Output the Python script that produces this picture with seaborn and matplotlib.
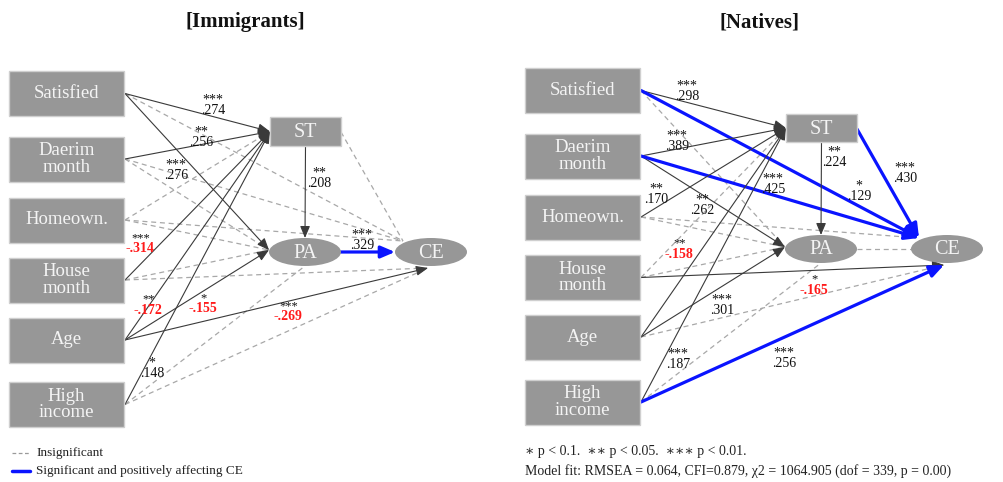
import matplotlib
matplotlib.use("Agg")
import matplotlib.pyplot as plt
from matplotlib.patches import Rectangle, Ellipse
import seaborn as sns

# ---------------- data ----------------
predictors = ["Satisfied", "Daerim\nmonth", "Homeown.", "House\nmonth", "Age", "High\nincome"]
mediators = ["ST", "PA", "CE"]
panel_titles = ["[Immigrants]", "[Natives]"]

# edges: (source, target, kind)  kind: sig = significant, ns = insignificant, pos = significant & positive on CE
imm_edges = [
    ("Satisfied", "ST", "sig"), ("Satisfied", "PA", "sig"), ("Satisfied", "CE", "ns"),
    ("Daerim\nmonth", "ST", "sig"), ("Daerim\nmonth", "PA", "ns"), ("Daerim\nmonth", "CE", "ns"),
    ("Homeown.", "ST", "ns"), ("Homeown.", "PA", "ns"), ("Homeown.", "CE", "ns"),
    ("House\nmonth", "ST", "sig"), ("House\nmonth", "PA", "ns"), ("House\nmonth", "CE", "ns"),
    ("Age", "ST", "sig"), ("Age", "PA", "sig"), ("Age", "CE", "sig"),
    ("High\nincome", "ST", "sig"), ("High\nincome", "PA", "ns"), ("High\nincome", "CE", "ns"),
    ("ST", "PA", "sig"), ("ST", "CE", "ns"), ("PA", "CE", "pos"),
]
nat_edges = [
    ("Satisfied", "ST", "sig"), ("Satisfied", "PA", "ns"), ("Satisfied", "CE", "pos"),
    ("Daerim\nmonth", "ST", "sig"), ("Daerim\nmonth", "PA", "sig"), ("Daerim\nmonth", "CE", "pos"),
    ("Homeown.", "ST", "sig"), ("Homeown.", "PA", "ns"), ("Homeown.", "CE", "ns"),
    ("House\nmonth", "ST", "ns"), ("House\nmonth", "PA", "ns"), ("House\nmonth", "CE", "sig"),
    ("Age", "ST", "sig"), ("Age", "PA", "sig"), ("Age", "CE", "ns"),
    ("High\nincome", "ST", "sig"), ("High\nincome", "PA", "ns"), ("High\nincome", "CE", "pos"),
    ("ST", "PA", "sig"), ("ST", "CE", "pos"), ("PA", "CE", "ns"),
]

# coefficients and significance stars
imm_coefs = [".274", ".256", ".276", "-.314", "-.172", "-.155", "-.269", ".148", ".208", ".329"]
imm_stars = ["***", "**", "***", "***", "**", "*", "***", "*", "**", "***"]
nat_coefs = [".298", ".389", ".170", ".262", ".425", ".129", ".224", ".430", "-.158", "-.165", ".301", ".187", ".256"]
nat_stars = ["***", "***", "**", "**", "***", "*", "**", "***", "**", "*", "***", "***", "***"]

legend_labels = ["Insignificant", "Significant and positively affecting CE"]
footnote_sig = "\u2217 p < 0.1.  \u2217\u2217 p < 0.05.  \u2217\u2217\u2217 p < 0.01."
footnote_fit = "Model fit: RMSEA = 0.064, CFI=0.879, \u03c72 = 1064.905 (dof = 339, p = 0.00)"

# ---------------- layout (pixel space) ----------------
imm_layout = dict(box_x=9, box_cy=[93.5, 159, 220, 280, 340, 404.5],
                  st=(270, 117, 71, 29), pa=(305, 252), ce=(431, 252),
                  title=(245, 22))
nat_layout = dict(box_x=525, box_cy=[90.5, 156, 217, 277.5, 337, 402],
                  st=(786, 114, 71, 28), pa=(821, 249), ce=(947, 249),
                  title=(760, 22))
imm_label_pos = [(213, 108), (201, 140), (176, 173), (140, 248), (148, 309), (203, 308),
                 (288, 316), (152, 371), (319, 181), (362, 243)]
nat_label_pos = [(687, 94), (677, 144), (656, 197), (702, 208), (773, 187), (859, 194),
                 (834, 160), (905, 176), (679, 253), (814, 289), (722, 308), (678, 362), (784, 361)]

sns.set_theme(style="white")
plt.rcParams["font.family"] = ["Liberation Serif", "DejaVu Serif"]

fig = plt.figure(figsize=(10.04, 4.82), dpi=100)
ax = fig.add_axes([0, 0, 1, 1])
ax.set_xlim(0, 1004)
ax.set_ylim(482, 0)
ax.axis("off")

BOX_FILL = "#979797"
BOX_EDGE = "#cfcfcf"
TXT = "#f4f4f4"
DASH = "#a8a8a8"
BLUE = "#0a14ff"


def draw_panel(layout, edges, coefs, stars, label_pos):
    bx = layout["box_x"]
    bw, bh = 115, 45
    anchors = {}
    for name, cy in zip(predictors, layout["box_cy"]):
        ax.add_patch(Rectangle((bx, cy - bh / 2), bw, bh, facecolor=BOX_FILL,
                               edgecolor=BOX_EDGE, lw=1, zorder=3))
        ax.text(bx + bw / 2, cy, name, ha="center", va="center", fontsize=13.5,
                color=TXT, zorder=4, linespacing=0.95)
        anchors[name] = (bx + bw + 1, cy)
    sx, sy, sw, sh = layout["st"]
    ax.add_patch(Rectangle((sx, sy), sw, sh, facecolor=BOX_FILL, edgecolor=BOX_EDGE, lw=1, zorder=3))
    ax.text(sx + sw / 2, sy + sh / 2 + 1, "ST", ha="center", va="center", fontsize=14.5, color=TXT, zorder=4)
    px, py = layout["pa"]
    cx, cy = layout["ce"]
    for (ex, ey), lab in [((px, py), "PA"), ((cx, cy), "CE")]:
        ax.add_patch(Ellipse((ex, ey), 72, 28, facecolor=BOX_FILL, edgecolor="none", zorder=3))
        ax.text(ex, ey + 1, lab, ha="center", va="center", fontsize=14.5, color=TXT, zorder=4)

    # target anchor points
    st_left = (sx, sy + sh / 2)
    st_right = (sx + sw, sy + 15)
    st_bottom = (sx + sw / 2, sy + sh)
    pa_left = (px - 36, py - 2)
    pa_top = (px, py - 14)
    pa_bottom = (px, py + 14)
    pa_right = (px + 36, py)
    ce_topleft = (cx - 28, cy - 11)
    ce_left = (cx - 36, cy)
    ce_bottom = (cx - 3, cy + 16)

    src_order = predictors
    for s, t, kind in edges:
        if s in anchors:
            start = anchors[s]
            idx = src_order.index(s)
            if t == "ST":
                end = st_left
            elif t == "PA":
                end = pa_bottom if (idx == 5 and kind == "ns") else pa_left
            else:
                end = ce_topleft if idx <= 2 else ce_bottom
        elif s == "ST":
            start = st_bottom if t == "PA" else st_right
            end = pa_top if t == "PA" else ce_topleft
        else:  # PA -> CE
            start = pa_right
            end = ce_left
        if kind == "ns":
            ax.plot([start[0], end[0]], [start[1], end[1]], ls=(0, (4, 3)), color=DASH,
                    lw=0.9, zorder=1)
        elif kind == "sig":
            ax.annotate("", xy=end, xytext=start,
                        arrowprops=dict(arrowstyle="-|>,head_length=0.6,head_width=0.25",
                                        color="#3a3a3a", lw=0.8, shrinkA=0, shrinkB=0),
                        zorder=2)
        else:
            ax.annotate("", xy=end, xytext=start,
                        arrowprops=dict(arrowstyle="-|>,head_length=0.7,head_width=0.3",
                                        color=BLUE, lw=2.3, shrinkA=0, shrinkB=0),
                        zorder=2)

    for c, st, (lx, ly) in zip(coefs, stars, label_pos):
        red = c.startswith("-")
        if red:
            ax.text(lx, ly + 1, c, ha="center", va="center", fontsize=10,
                    color="#ff1a1a", fontweight="bold", zorder=5)
            ax.text(lx + 1, ly - 10, st, ha="center", va="center", fontsize=9,
                    color="#111111", zorder=5)
        else:
            ax.text(lx, ly + 6, st + "\n" + c, ha="center", va="baseline", fontsize=10,
                    color="#111111", linespacing=0.75, zorder=5, multialignment="center")

    tx, ty = layout["title"]
    return tx, ty


for lay, title, edges, coefs, stars, lp in [
    (imm_layout, panel_titles[0], imm_edges, imm_coefs, imm_stars, imm_label_pos),
    (nat_layout, panel_titles[1], nat_edges, nat_coefs, nat_stars, nat_label_pos),
]:
    tx, ty = draw_panel(lay, edges, coefs, stars, lp)
    ax.text(tx, ty, title, ha="center", va="center", fontsize=15, fontweight="bold", color="#111111")

# legend
ax.plot([12, 30], [453, 453], ls=(0, (3, 2)), color="#9a9a9a", lw=0.9)
ax.plot([12, 30], [471, 471], color=BLUE, lw=2.5)
ax.text(36, 453, legend_labels[0], ha="left", va="center", fontsize=9.5, color="#222222")
ax.text(36, 471, legend_labels[1], ha="left", va="center", fontsize=9.5, color="#222222")

# footnotes
ax.text(525, 451, footnote_sig, ha="left", va="center", fontsize=10, color="#222222")
ax.text(525, 471, footnote_fit, ha="left", va="center", fontsize=10, color="#222222")

fig.savefig("out.png", dpi=100, facecolor="white")
